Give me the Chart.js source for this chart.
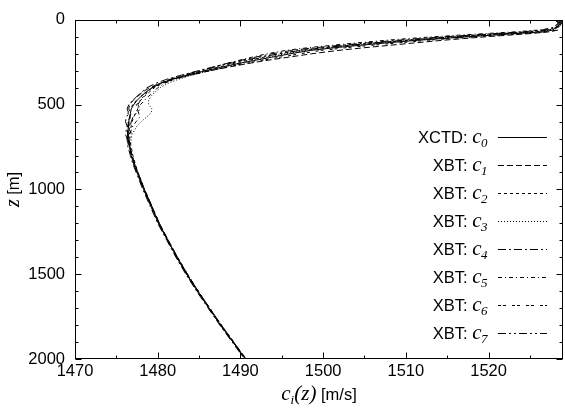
<!DOCTYPE html>
<html><head><meta charset="utf-8">
<script src="https://cdn.jsdelivr.net/npm/chart.js@4"></script>
<style>html,body{margin:0;padding:0;background:#fff}#wrap{width:565px;height:414px;position:relative}</style>
</head><body><div id="wrap"><canvas id="c"></canvas></div>
<script>
const depths = [0,10,20,30,40,50,60,70,80,90,100,110,120,135,150,165,180,200,220,240,260,280,300,325,350,375,400,425,450,475,500,525,550,575,600,625,650,675,700,750,800,850,900,1000,1100,1200,1300,1400,1500,1600,1700,1800,1900,2000];

const c0 = [1528.2,1528.4,1528.6,1528.5,1528.3,1528.0,1527.8,1526.6,1523.6,1520.4,1517.3,1514.4,1511.5,
1507.8,1504.4,1501.2,1498.5,
1496.0,1493.8,1491.6,1489.5,1487.6,1485.8,
1483.6,1481.7,1480.3,1479.3,1478.6,1478.0,1477.5,1477.1,1476.8,1476.7,1476.6,1476.5,1476.5,1476.4,1476.4,1476.4,
1476.6,1476.8,1477.1,1477.5,
1478.3,1479.2,1480.1,1481.2,1482.3,1483.5,1484.8,1486.2,1487.6,1489.1,1490.6];
const c1 = [1528.6,1528.9,1528.3,1528.7,1528.5,1528.4,1528.4,1527.4,1525.2,1522.4,1519.6,1517.0,1514.5,
1511.2,1508.0,1504.8,1501.8,
1498.6,1495.8,1493.0,1490.6,1488.4,1486.3,
1483.9,1481.8,1480.2,1479.0,1478.2,1477.6,1477.0,1476.6,1476.5,1476.8,1476.6,1476.4,1476.5,1476.3,1476.4,1476.5,
1476.6,1476.9,1477.2,1477.6,
1478.4,1479.3,1480.2,1481.3,1482.4,1483.6,1484.9,1486.3,1487.7,1489.2,1490.7];
const c2 = [1528.0,1528.3,1528.5,1528.2,1528.4,1527.9,1527.3,1525.6,1522.4,1519.2,1516.0,1513.1,1510.3,
1506.5,1503.0,1499.9,1497.3,
1494.8,1492.8,1490.8,1488.9,1487.2,1485.6,
1483.6,1481.8,1480.5,1479.6,1479.0,1478.4,1477.9,1477.4,1477.6,1477.3,1477.1,1476.9,1476.8,1476.7,1476.8,1476.6,
1476.8,1477.0,1477.3,1477.6,
1478.4,1479.3,1480.2,1481.2,1482.4,1483.6,1484.9,1486.3,1487.7,1489.2,1490.6];
const c3 = [1528.3,1528.6,1528.8,1528.4,1528.6,1528.1,1527.6,1525.9,1522.8,1519.6,1516.5,1513.6,1510.9,
1507.2,1503.8,1500.6,1497.9,
1495.4,1493.3,1491.3,1489.5,1487.8,1486.2,
1484.2,1482.5,1481.2,1480.3,1479.7,1479.2,1478.9,1478.9,1479.3,1479.2,1478.6,1478.0,1477.5,1477.2,1476.9,1476.8,
1476.7,1476.9,1477.2,1477.6,
1478.3,1479.2,1480.2,1481.3,1482.3,1483.5,1484.8,1486.2,1487.7,1489.1,1490.6];
const c4 = [1528.1,1528.3,1528.4,1528.2,1528.0,1527.5,1526.4,1524.2,1521.0,1517.8,1514.6,1511.7,1509.0,
1505.4,1502.0,1498.8,1496.2,
1493.8,1491.8,1489.9,1488.1,1486.5,1484.9,
1482.9,1481.1,1479.7,1478.7,1478.1,1477.5,1477.0,1476.5,1476.3,1476.5,1476.2,1476.1,1476.3,1476.2,1476.1,1476.3,
1476.4,1476.7,1477.0,1477.4,
1478.2,1479.1,1480.0,1481.1,1482.2,1483.4,1484.7,1486.1,1487.5,1489.0,1490.5];
const c5 = [1528.4,1528.7,1528.5,1528.8,1528.3,1527.6,1526.0,1523.4,1519.8,1516.4,1513.2,1510.3,1507.6,
1504.2,1501.0,1498.0,1495.5,
1493.2,1491.4,1489.7,1488.1,1486.7,1485.3,
1483.5,1481.9,1480.8,1480.0,1479.5,1478.9,1478.4,1477.9,1477.5,1477.7,1477.8,1477.4,1477.0,1476.8,1476.6,1476.5,
1476.7,1476.9,1477.2,1477.6,
1478.4,1479.3,1480.1,1481.2,1482.4,1483.6,1484.9,1486.2,1487.6,1489.1,1490.6];
const c6 = [1528.5,1528.2,1528.7,1528.9,1528.4,1528.2,1528.2,1527.0,1524.2,1521.2,1518.2,1515.4,1512.7,
1509.2,1505.8,1502.6,1499.8,
1497.2,1494.8,1492.4,1490.2,1488.2,1486.3,
1484.1,1482.1,1480.5,1479.4,1478.7,1478.0,1477.4,1477.0,1476.6,1476.4,1476.7,1476.5,1476.3,1476.6,1476.4,1476.3,
1476.5,1476.8,1477.1,1477.5,
1478.3,1479.2,1480.1,1481.2,1482.3,1483.5,1484.8,1486.2,1487.6,1489.1,1490.6];
const c7 = [1528.3,1528.5,1528.9,1528.6,1528.2,1527.8,1527.0,1525.0,1521.8,1518.6,1515.5,1512.6,1509.9,
1506.3,1503.0,1499.9,1497.2,
1494.6,1492.4,1490.3,1488.4,1486.7,1485.1,
1483.2,1481.5,1480.2,1479.3,1478.8,1478.3,1477.9,1477.6,1477.9,1477.4,1477.0,1476.8,1476.7,1476.5,1476.6,1476.5,
1476.6,1476.9,1477.2,1477.6,
1478.4,1479.3,1480.2,1481.2,1482.3,1483.5,1484.8,1486.2,1487.6,1489.1,1490.6];

const seriesNames = ['XCTD','XBT','XBT','XBT','XBT','XBT','XBT','XBT'];
const seriesSubs = ['0','1','2','3','4','5','6','7'];
const seriesValues = [c0,c1,c2,c3,c4,c5,c6,c7];
const seriesDashes = [[],[6,3],[3,3],[1,2],[8,3,2,3],[4,3,1,3],[3,2,3,6],[8,3,2,3,2,3]];

const xTicks = [1470,1480,1490,1500,1510,1520];
const xMinorTicks = [1475,1485,1495,1505,1515,1525];
const yTicks = [0,500,1000,1500,2000];
const yMinorTicks = [100,200,300,400,600,700,800,900,1100,1200,1300,1400,1600,1700,1800,1900];

const SANS = '"Liberation Sans", Arial, sans-serif';
const SERIF = '"Liberation Serif", "Times New Roman", serif';

const datasets = seriesValues.map((vals, i) => ({
  label: seriesNames[i] + ': c' + seriesSubs[i],
  data: vals.map((v, k) => ({x: v, y: depths[k]})),
  showLine: true,
  borderColor: '#000',
  borderWidth: 1,
  borderDash: seriesDashes[i],
  pointRadius: 0,
  fill: false,
  tension: 0
}));

const decor = {
  id: 'decor',
  afterDraw(chart) {
    const ctx = chart.ctx;
    const a = chart.chartArea;
    const xs = chart.scales.x, ys = chart.scales.y;
    ctx.save();
    ctx.strokeStyle = '#000';
    ctx.lineWidth = 1;
    ctx.setLineDash([]);
    ctx.strokeRect(Math.round(a.left)+0.5, Math.round(a.top)+0.5, Math.round(a.right-a.left)-1, Math.round(a.bottom-a.top)-1);
    const L = Math.round(a.left)+0.5, R = Math.round(a.right)-0.5, T = Math.round(a.top)+0.5, B = Math.round(a.bottom)-0.5;
    ctx.beginPath();
    const xt = (vals, len) => vals.forEach(v => {
      const p = Math.round(xs.getPixelForValue(v)) + 0.5;
      ctx.moveTo(p, B); ctx.lineTo(p, B - len);
      ctx.moveTo(p, T); ctx.lineTo(p, T + len);
    });
    const yt = (vals, len) => vals.forEach(v => {
      const p = Math.round(ys.getPixelForValue(v)) + 0.5;
      ctx.moveTo(L, p); ctx.lineTo(L + len, p);
      ctx.moveTo(R, p); ctx.lineTo(R - len, p);
    });
    xt(xTicks, 6); xt(xMinorTicks, 3);
    yt(yTicks, 6); yt(yMinorTicks, 3);
    ctx.stroke();

    ctx.fillStyle = '#000';
    ctx.textBaseline = 'alphabetic';
    const textRight = 488, lineL = 498, lineR = 547;
    for (let i = 0; i < seriesNames.length; i++) {
      const yc = 137 + 28 * i;
      const base = yc + 5.5;
      ctx.font = 'italic 13px ' + SERIF;
      const wSub = ctx.measureText(seriesSubs[i]).width;
      ctx.font = 'italic 21px ' + SERIF;
      const wC = ctx.measureText('c').width;
      ctx.font = '16.5px ' + SANS;
      const lbl = seriesNames[i] + ': ';
      const wL = ctx.measureText(lbl).width;
      let x = textRight - wSub - wC - wL;
      ctx.textAlign = 'left';
      ctx.fillText(lbl, x, base);
      x += wL;
      ctx.font = 'italic 21px ' + SERIF;
      ctx.fillText('c', x, base);
      x += wC;
      ctx.font = 'italic 13px ' + SERIF;
      ctx.fillText(seriesSubs[i], x - 0.5, base + 4);
      ctx.beginPath();
      ctx.setLineDash(seriesDashes[i]);
      ctx.moveTo(lineL, Math.round(yc) + 0.5);
      ctx.lineTo(lineR, Math.round(yc) + 0.5);
      ctx.stroke();
      ctx.setLineDash([]);
    }

    const parts = [
      {t:'c', f:'italic 21px ' + SERIF, dy:0},
      {t:'i', f:'italic 13px ' + SERIF, dy:4},
      {t:'(z)', f:'italic 21px ' + SERIF, dy:0},
      {t:' [m/s]', f:'16.5px ' + SANS, dy:0}
    ];
    let tw = 0;
    parts.forEach(p => { ctx.font = p.f; p.w = ctx.measureText(p.t).width; tw += p.w; });
    let x0 = (a.left + a.right) / 2 - tw / 2;
    const xb = 400;
    parts.forEach(p => { ctx.font = p.f; ctx.fillText(p.t, x0, xb + p.dy); x0 += p.w; });

    ctx.translate(19, (a.top + a.bottom) / 2);
    ctx.rotate(-Math.PI / 2);
    const yparts = [
      {t:'z', f:'italic 20px ' + SERIF},
      {t:' [m]', f:'16.5px ' + SANS}
    ];
    let yw = 0;
    yparts.forEach(p => { ctx.font = p.f; p.w = ctx.measureText(p.t).width; yw += p.w; });
    let y0 = -yw / 2;
    yparts.forEach(p => { ctx.font = p.f; ctx.fillText(p.t, y0, 0); y0 += p.w; });
    ctx.restore();
  }
};

new Chart(document.getElementById('c'), {
  type: 'scatter',
  data: { datasets },
  options: {
    responsive: true,
    maintainAspectRatio: false,
    animation: false,
    devicePixelRatio: 1,
    layout: { padding: { top: 9, right: 2, left: 0, bottom: 0 } },
    plugins: { legend: { display: false }, tooltip: { enabled: false } },
    scales: {
      x: {
        type: 'linear', min: 1470, max: 1529,
        afterBuildTicks: s => { s.ticks = xTicks.map(v => ({value: v})); },
        afterFit: s => { s.height = 55; },
        grid: { display: false, drawTicks: false },
        border: { display: false },
        ticks: { color: '#000', font: { family: SANS, size: 16.5 }, padding: 3, maxRotation: 0, autoSkip: false, callback: v => String(v) }
      },
      y: {
        type: 'linear', min: 0, max: 2000, reverse: true,
        afterBuildTicks: s => { s.ticks = yTicks.map(v => ({value: v})); },
        afterFit: s => { s.width = 75; },
        grid: { display: false, drawTicks: false },
        border: { display: false },
        ticks: { color: '#000', font: { family: SANS, size: 16.5 }, padding: 10, autoSkip: false, callback: v => String(v) }
      }
    }
  },
  plugins: [decor]
});
</script></body></html>
